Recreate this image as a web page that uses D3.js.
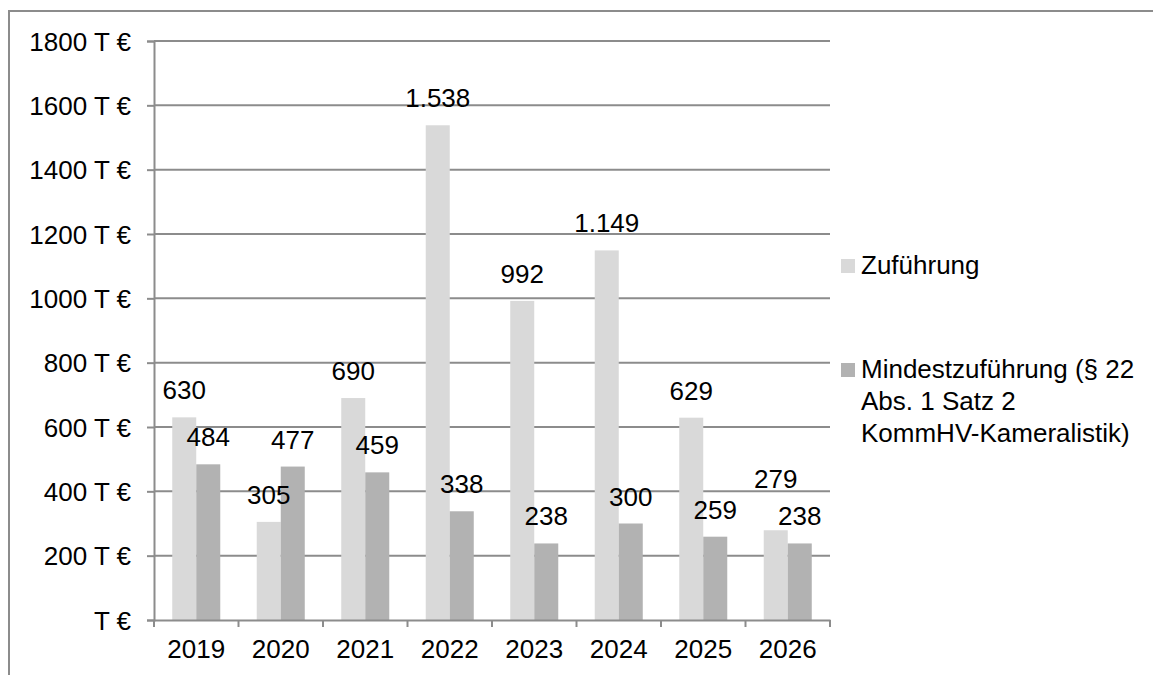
<!DOCTYPE html>
<html>
<head>
<meta charset="utf-8">
<script src="https://cdn.jsdelivr.net/npm/d3@7"></script>
<style>
	body { margin: 0; background: #fff; }
	svg text { font-family: "Liberation Sans", Arial, sans-serif; fill: #000; }
</style>
</head>
<body>
<div id="chart"></div>
<script>
// chart data
const years = ["2019", "2020", "2021", "2022", "2023", "2024", "2025", "2026"];
const zufuehrung = [630, 305, 690, 1538, 992, 1149, 629, 279];
const mindest = [484, 477, 459, 338, 238, 300, 259, 238];
const seriesNames = ["Zuführung", "Mindestzuführung (§ 22 Abs. 1 Satz 2 KommHV-Kameralistik)"];
const legendLines = [["Zuführung"], ["Mindestzuführung (§ 22", "Abs. 1 Satz 2", "KommHV-Kameralistik)"]];
const yTicks = [0, 200, 400, 600, 800, 1000, 1200, 1400, 1600, 1800];

const width = 1153;
const height = 675;
const fontSize = "26px";
const colors = ["#d9d9d9", "#b2b2b2"];
const gridColor = "#8c8c8c";

const de = d3.formatLocale({ decimal: ",", thousands: ".", grouping: [3], currency: ["", " €"] });
const fmt = de.format(",d");

const svg = d3.select("#chart")
	.append("svg")
	.attr("width", width)
	.attr("height", height);

// outer frame (only left and top edge are visible)
svg.append("path")
	.attr("d", "M9,675V11H1153")
	.attr("fill", "none")
	.attr("stroke", gridColor)
	.attr("stroke-width", 2);

const x0 = d3.scaleBand()
	.domain(years)
	.range([154, 830])
	.padding(0);

const x1 = d3.scaleBand()
	.domain([0, 1])
	.range([0, x0.bandwidth()])
	.paddingInner(0)
	.paddingOuter(0.76);

const y = d3.scaleLinear()
	.domain([0, 1800])
	.range([620, 41]);

// gridlines
svg.append("g")
	.selectAll("line")
	.data(yTicks.slice(1))
	.enter()
	.append("line")
	.attr("x1", 154)
	.attr("x2", 830)
	.attr("y1", d => y(d))
	.attr("y2", d => y(d))
	.attr("stroke", gridColor)
	.attr("stroke-width", 2);

// bars
const rows = years.map((yr, i) => [zufuehrung[i], mindest[i]]);
const groups = svg.append("g")
	.selectAll("g")
	.data(rows)
	.enter()
	.append("g")
	.attr("transform", (d, i) => `translate(${x0(years[i])},0)`);

groups.selectAll("rect")
	.data(d => d)
	.enter()
	.append("rect")
	.attr("x", (d, j) => x1(j))
	.attr("y", d => y(d))
	.attr("width", x1.bandwidth())
	.attr("height", d => y(0) - y(d))
	.attr("fill", (d, j) => colors[j]);

// y axis
const yAxis = d3.axisLeft(y)
	.tickValues(yTicks)
	.tickSize(7)
	.tickPadding(16)
	.tickFormat(d => d === 0 ? "T €" : d + " T €");

svg.append("g")
	.attr("transform", "translate(154,0)")
	.call(yAxis)
	.call(g => g.select(".domain").attr("stroke", gridColor).attr("stroke-width", 2))
	.call(g => g.selectAll(".tick line").attr("stroke", gridColor).attr("stroke-width", 2))
	.call(g => g.selectAll(".tick text").style("font-size", fontSize).attr("dy", "0.35em"));

// x axis: ticks sit between the categories
const xAxis = d3.axisBottom(x0)
	.tickSize(0)
	.tickPadding(20)
	.tickSizeOuter(0);

svg.append("g")
	.attr("transform", "translate(0,620)")
	.call(xAxis)
	.call(g => g.select(".domain").attr("stroke", gridColor).attr("stroke-width", 2))
	.call(g => g.selectAll(".tick text").style("font-size", fontSize).attr("dy", "0.71em"));

svg.append("g")
	.selectAll("line")
	.data(years.concat(["end"]))
	.enter()
	.append("line")
	.attr("x1", (d, i) => x0.range()[0] + i * x0.step())
	.attr("x2", (d, i) => x0.range()[0] + i * x0.step())
	.attr("y1", 620)
	.attr("y2", 627)
	.attr("stroke", gridColor)
	.attr("stroke-width", 2);

// value labels; the 2026 Zuführung label was pushed up in the original
const labelNudge = { "0-7": -24 };
groups.selectAll("text")
	.data(d => d)
	.enter()
	.append("text")
	.attr("x", (d, j) => x1(j) + x1.bandwidth() / 2)
	.attr("y", function(d, j) {
		const i = rows.indexOf(d3.select(this.parentNode).datum());
		return y(d) - 18 + (labelNudge[j + "-" + i] || 0);
	})
	.attr("text-anchor", "middle")
	.style("font-size", fontSize)
	.text(d => fmt(d));

// legend
const legend = svg.append("g")
	.selectAll("g")
	.data(legendLines)
	.enter()
	.append("g")
	.attr("transform", (d, i) => `translate(841, ${i === 0 ? 259 : 363})`);

legend.append("rect")
	.attr("width", 14)
	.attr("height", 14)
	.attr("fill", (d, i) => colors[i]);

legend.append("text")
	.attr("x", 20)
	.attr("y", 15)
	.style("font-size", fontSize)
	.selectAll("tspan")
	.data(d => d)
	.enter()
	.append("tspan")
	.attr("x", 20)
	.attr("dy", (d, i) => i === 0 ? 0 : 32)
	.text(d => d);
</script>
</body>
</html>
